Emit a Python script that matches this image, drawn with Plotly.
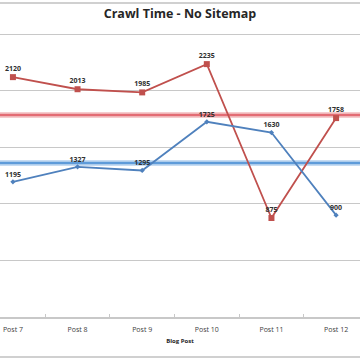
import plotly.graph_objects as go

categories = ["Post 7", "Post 8", "Post 9", "Post 10", "Post 11", "Post 12"]
with_sitemap = [1195, 1327, 1295, 1725, 1630, 900]
no_sitemap = [2120, 2013, 1985, 2235, 875, 1758]
avg_no_sitemap = 1785
avg_with_sitemap = 1360

RED = "#C0504D"
BLUE = "#4F81BD"
FONT = "Open Sans"

fig = go.Figure()
for vals, col in [(no_sitemap, RED), (with_sitemap, BLUE)]:
    fig.add_trace(go.Scatter(
        x=categories, y=vals, mode="lines+markers+text",
        line=dict(color=col, width=1.8),
        marker=dict(color=col, size=6 if col == RED else 4,
                    symbol="square" if col == RED else "diamond"),
        text=["<b>%d</b>" % v for v in vals], textposition="top center",
        textfont=dict(family=FONT, size=7, color="#303030"),
        cliponaxis=False, showlegend=False,
    ))

# average lines
for val, col, halo in [(avg_no_sitemap, "#E36C74", "rgba(227,108,116,0.35)"),
                       (avg_with_sitemap, "#5E9BD9", "rgba(94,155,217,0.35)")]:
    fig.add_shape(type="line", xref="paper", x0=0, x1=1, y0=val, y1=val,
                  line=dict(color=halo, width=6), layer="below")
    fig.add_shape(type="line", xref="paper", x0=0, x1=1, y0=val, y1=val,
                  line=dict(color=col, width=2.5), layer="below")

# chart border lines (top and bottom of chart area)
for yy in [1.106, -0.141]:
    fig.add_shape(type="line", xref="paper", yref="paper", x0=-0.1, x1=1.1,
                  y0=yy, y1=yy, line=dict(color="#D0D0D0", width=2))

fig.update_layout(
    width=360, height=360,
    margin=dict(l=0, r=0, t=33, b=43, autoexpand=False),
    paper_bgcolor="white", plot_bgcolor="white",
    title=dict(text="<b>Crawl Time - No Sitemap</b>", x=0.5, xanchor="center",
               yref="container", y=1 - 9 / 360, yanchor="top",
               font=dict(family=FONT, size=12.5, color="#262626")),
    xaxis=dict(
        type="category", range=[-0.2, 5.37], automargin=False,
        showgrid=False, showline=True, linecolor="#C8C8C8", linewidth=1.5,
        ticks="inside", tickson="boundaries", ticklen=3, tickcolor="#C8C8C8",
        ticklabelstandoff=5,
        tickfont=dict(family=FONT, size=7, color="#404040"),
        title=dict(text="<b>Blog Post</b>", standoff=6,
                   font=dict(family=FONT, size=6, color="#262626")),
    ),
    yaxis=dict(
        range=[0, 2510], tick0=0, dtick=500, showgrid=True, gridcolor="#C8C8C8",
        gridwidth=1.3, showticklabels=False, zeroline=False, showline=False,
        automargin=False,
    ),
)

fig.write_html("out.html", config={"displayModeBar": False},
               post_script="document.body.style.margin='0';")
